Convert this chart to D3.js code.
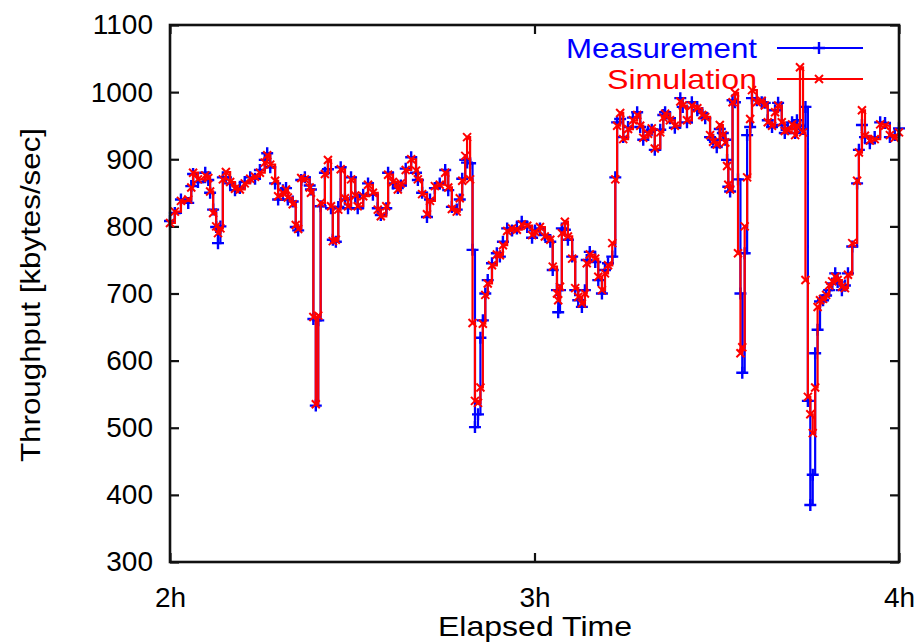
<!DOCTYPE html>
<html>
<head>
<meta charset="utf-8">
<script src="https://cdn.jsdelivr.net/npm/d3@7"></script>
<style>
  body { margin: 0; background: #fff; }
  text { font-family: "Liberation Sans", Arial, sans-serif; }
</style>
</head>
<body>
<div class="chart"></div>
<script>
var width = 914,
    height = 642,
    padLeft = 170, padRight = 899, padTop = 25, padBottom = 562;

// elapsed minutes after the 2h mark
var minutes = [0, 0.8, 1.8, 3.0, 3.5, 3.8, 4.6, 5.8, 6.3, 6.6, 7.1, 7.6, 7.9, 8.3, 8.7, 9.2, 9.9, 10.7, 11.5, 12.3,
  13.2, 14.0, 14.8, 15.6, 16.0, 16.5, 17.3, 17.8, 18.6, 19.1, 19.4, 20.2, 20.7, 21.1, 21.6, 22.2, 23.0, 23.2, 23.6, 24.0,
  24.4, 24.8, 25.5, 26.0, 26.5, 26.8, 27.3, 27.7, 28.1, 28.8, 29.3, 29.8, 30.5, 30.9, 31.8, 32.6, 33.4, 34.2, 34.7, 35.6,
  35.9, 36.7, 37.5, 38.0, 38.8, 39.7, 40.5, 40.8, 41.5, 42.3, 42.8, 43.6, 44.4, 45.3, 45.8, 46.4, 47.2, 47.7, 48.1, 48.6,
  48.9, 49.4, 49.8, 50.2, 50.7, 51.1, 51.5, 51.9, 52.3, 53.0, 53.8, 54.3, 54.8, 55.5, 56.3, 57.1, 57.9, 58.8, 59.6, 60.1,
  60.9, 61.7, 62.6, 63.0, 63.7, 63.9, 64.2, 64.5, 65.0, 65.5, 66.2, 66.7, 67.2, 67.8, 68.3, 68.6, 69.1, 70.0, 70.5, 71.1,
  71.6, 72.1, 72.8, 73.3, 73.6, 74.1, 74.6, 75.4, 76.2, 76.9, 77.4, 77.9, 78.7, 79.3, 79.8, 80.7, 81.2, 81.5, 82.3, 83.1,
  84.0, 84.4, 85.1, 85.9, 86.8, 87.6, 88.1, 88.9, 89.4, 90.0, 90.5, 91.0, 91.4, 91.7, 91.9, 92.2, 92.6, 93.0, 93.5, 93.9,
  94.2, 94.6, 95.0, 95.5, 95.8, 96.6, 97.4, 97.9, 98.4, 99.1, 99.6, 100.1, 100.7, 101.2, 101.7, 102.4, 102.9, 103.2, 103.7, 104.2,
  104.6, 105.0, 105.4, 105.8, 106.2, 106.6, 107.0, 107.5, 108.0, 108.5, 109.0, 109.5, 109.9, 110.6, 111.1, 111.6, 112.3, 113.1, 113.4, 113.9,
  114.4, 115.2, 116.0, 116.9, 117.7, 118.5, 119.3, 120];

var measurement = [808, 820, 840, 835, 860, 878, 866, 880, 869, 850, 825, 799, 775, 800, 873, 873, 864, 854, 857, 866,
  873, 871, 884, 899, 909, 888, 864, 840, 854, 857, 840, 837, 799, 794, 869, 873, 861, 855, 662, 533,
  660, 830, 880, 885, 827, 780, 777, 829, 888, 840, 827, 873, 844, 827, 847, 864, 847, 827, 817, 827,
  880, 864, 857, 861, 886, 903, 880, 869, 850, 814, 840, 857, 864, 884, 854, 829, 825, 840, 871, 899,
  895, 894, 765, 501, 520, 634, 660, 700, 720, 745, 760, 755, 777, 797, 794, 797, 807, 799, 783, 794,
  797, 787, 777, 735, 705, 672, 705, 797, 795, 780, 755, 705, 690, 680, 705, 750, 762, 747, 720, 700,
  735, 745, 755, 873, 955, 960, 933, 948, 962, 970, 948, 929, 941, 944, 914, 944, 966, 970, 961, 947,
  991, 978, 955, 985, 973, 969, 961, 933, 929, 918, 945, 939, 929, 899, 859, 852, 988, 985, 870, 700,
  582, 760, 936, 948, 991, 988, 985, 984, 958, 948, 973, 984, 951, 939, 946, 955, 939, 958, 950, 945,
  978, 540, 385, 430, 611, 646, 688, 690, 697, 705, 715, 730, 717, 705, 712, 730, 770, 864, 914, 951,
  933, 924, 933, 955, 954, 933, 936, 946];

var simulation = [805, 822, 838, 840, 858, 880, 870, 876, 872, 852, 820, 800, 790, 797, 870, 881, 866, 856, 855, 864,
  871, 874, 880, 895, 906, 892, 868, 845, 850, 855, 843, 833, 802, 796, 872, 870, 858, 850, 665, 535,
  667, 835, 878, 899, 830, 778, 780, 825, 885, 842, 830, 870, 846, 830, 845, 862, 850, 825, 815, 830,
  877, 866, 855, 864, 884, 900, 883, 870, 848, 818, 838, 860, 862, 880, 858, 826, 822, 842, 868, 905,
  933, 870, 656, 540, 537, 560, 655, 698, 715, 742, 758, 757, 772, 793, 797, 795, 803, 801, 787, 792,
  799, 785, 780, 740, 700, 690, 710, 790, 807, 785, 752, 708, 695, 685, 700, 745, 758, 752, 725, 705,
  730, 742, 775, 870, 950, 969, 930, 945, 958, 966, 950, 932, 938, 946, 916, 940, 962, 968, 958, 950,
  986, 980, 958, 980, 976, 966, 963, 936, 926, 922, 951, 936, 925, 890, 862, 855, 985, 999, 760, 611,
  620, 800, 873, 960, 1003, 985, 987, 980, 955, 950, 970, 980, 955, 942, 944, 952, 936, 950, 1037, 940,
  720, 546, 520, 492, 560, 680, 690, 692, 698, 712, 718, 725, 720, 710, 708, 728, 775, 868, 910, 973,
  935, 928, 930, 952, 950, 936, 932, 940];

var yTicks = [300, 400, 500, 600, 700, 800, 900, 1000, 1100];
var xTicks = [0, 60, 120];
var xTickLabels = ['2h', '3h', '4h'];
var seriesNames = ['Measurement', 'Simulation'];
var seriesColors = ['#0000ff', '#ff0000'];

var svg = d3.select('.chart').append('svg').attr('width', width).attr('height', height);

var x = d3.scaleLinear().domain([0, 120]).range([padLeft, padRight]);
var y = d3.scaleLinear().domain([300, 1100]).range([padBottom, padTop]);

//axes with ticks pointing into the plot, gnuplot style
svg.append('g').attr('transform', 'translate(' + padLeft + ',0)')
  .call(d3.axisLeft(y).tickValues(yTicks).tickSize(-9).tickPadding(17).tickFormat(d3.format('d')));
svg.append('g').attr('transform', 'translate(' + padRight + ',0)')
  .call(d3.axisRight(y).tickValues(yTicks).tickSize(-9).tickFormat(''));
svg.append('g').attr('transform', 'translate(0,' + padBottom + ')')
  .call(d3.axisBottom(x).tickValues(xTicks).tickSize(-9).tickPadding(25)
    .tickFormat(function (d, i) { return xTickLabels[i]; }));
svg.append('g').attr('transform', 'translate(0,' + padTop + ')')
  .call(d3.axisTop(x).tickValues(xTicks).tickSize(-9).tickFormat(''));

svg.selectAll('.domain').remove();
svg.selectAll('.tick line').attr('stroke', '#111').attr('stroke-width', 2.2);
svg.selectAll('.tick text').attr('fill', '#000').style('font-size', '28px')
  .style('font-family', '"Liberation Sans", Arial, sans-serif');

//series, drawn as steps like the original plot
var data = [measurement, simulation];
var line = d3.line().curve(d3.curveStepAfter)
  .x(function (d, i) { return x(minutes[i]); }).y(function (d) { return y(d); });
var plusPath = 'M-6,0H6M0,-6V6';
var crossPath = 'M-4,-4L4,4M-4,4L4,-4';
var markers = [plusPath, crossPath];

data.forEach(function (vals, k) {
  svg.append('path').datum(vals).attr('d', line)
    .attr('fill', 'none').attr('stroke', seriesColors[k]).attr('stroke-width', 2.2);
  svg.append('g').selectAll('path').data(vals).enter().append('path')
    .attr('d', markers[k])
    .attr('transform', function (d, i) { return 'translate(' + x(minutes[i]) + ',' + y(d) + ')'; })
    .attr('stroke', seriesColors[k]).attr('stroke-width', k === 0 ? 2.4 : 2).attr('fill', 'none');
});

//frame
svg.append('rect').attr('x', padLeft).attr('y', padTop).attr('width', padRight - padLeft).attr('height', padBottom - padTop)
  .attr('fill', 'none').attr('stroke', '#111').attr('stroke-width', 2.6);

//legend
var legendY = [48, 79];
var legendLen = [191, 150];
seriesNames.forEach(function (name, k) {
  svg.append('text').attr('x', 757).attr('y', legendY[k] + 10).attr('text-anchor', 'end')
    .attr('textLength', legendLen[k]).attr('lengthAdjust', 'spacingAndGlyphs')
    .style('font-size', '28px').attr('fill', seriesColors[k]).text(name);
  svg.append('line').attr('x1', 777).attr('x2', 863).attr('y1', legendY[k]).attr('y2', legendY[k])
    .attr('stroke', seriesColors[k]).attr('stroke-width', 2.2);
  svg.append('path').attr('d', markers[k]).attr('transform', 'translate(819,' + legendY[k] + ')')
    .attr('stroke', seriesColors[k]).attr('stroke-width', k === 0 ? 2.4 : 2).attr('fill', 'none');
});

//axis titles
svg.append('text').attr('x', 535).attr('y', 636).attr('text-anchor', 'middle')
  .attr('textLength', 194).attr('lengthAdjust', 'spacingAndGlyphs')
  .style('font-size', '28px').text('Elapsed Time');
svg.append('text').attr('transform', 'translate(40,295) rotate(-90)').attr('text-anchor', 'middle')
  .attr('textLength', 334).attr('lengthAdjust', 'spacingAndGlyphs')
  .style('font-size', '28px').text('Throughput [kbytes/sec]');
</script>
</body>
</html>
